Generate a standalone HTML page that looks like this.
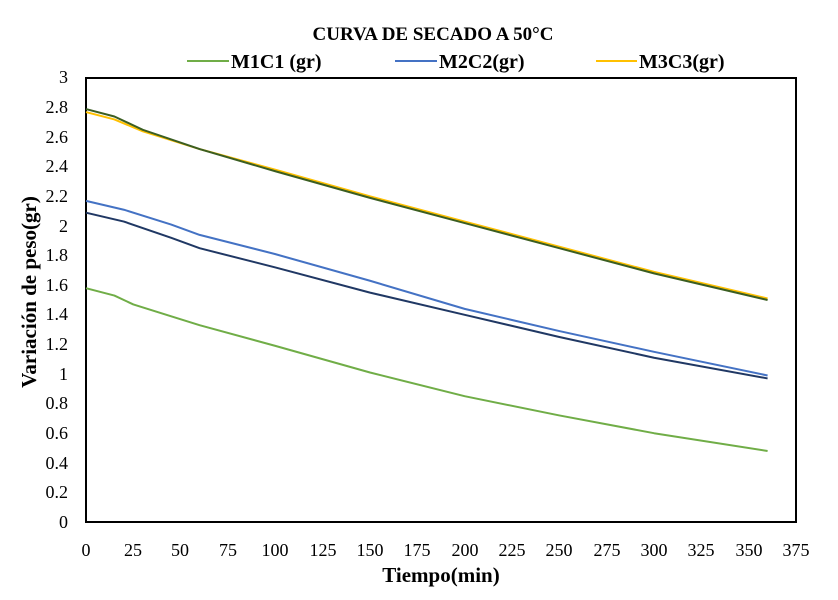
<!DOCTYPE html>
<html><head><style>body{margin:0;background:#fff}svg{display:block;font-family:"Liberation Serif",serif}</style></head><body>
<svg width="838" height="600" xmlns="http://www.w3.org/2000/svg">
<text x="433" y="40" text-anchor="middle" font-size="19" font-weight="bold">CURVA DE SECADO A 50°C</text>
<g font-size="20" font-weight="bold">
<line x1="187" y1="61" x2="229" y2="61" stroke="#70ad47" stroke-width="2"/><text x="231" y="68">M1C1 (gr)</text>
<line x1="395" y1="61" x2="437" y2="61" stroke="#4472c4" stroke-width="2"/><text x="439" y="68">M2C2(gr)</text>
<line x1="596" y1="61" x2="637" y2="61" stroke="#ffc000" stroke-width="2"/><text x="639" y="68">M3C3(gr)</text>
</g>
<rect x="86" y="78" width="710" height="444" fill="none" stroke="#000" stroke-width="2"/>
<g font-size="18" text-anchor="end">
<text x="68" y="528">0</text><text x="68" y="498">0.2</text><text x="68" y="469">0.4</text><text x="68" y="439">0.6</text><text x="68" y="409">0.8</text><text x="68" y="380">1</text><text x="68" y="350">1.2</text><text x="68" y="320">1.4</text><text x="68" y="291">1.6</text><text x="68" y="261">1.8</text><text x="68" y="232">2</text><text x="68" y="202">2.2</text><text x="68" y="172">2.4</text><text x="68" y="143">2.6</text><text x="68" y="113">2.8</text><text x="68" y="83">3</text>
</g>
<g font-size="18" text-anchor="middle">
<text x="86" y="556">0</text><text x="133" y="556">25</text><text x="180" y="556">50</text><text x="228" y="556">75</text><text x="275" y="556">100</text><text x="323" y="556">125</text><text x="370" y="556">150</text><text x="417" y="556">175</text><text x="465" y="556">200</text><text x="512" y="556">225</text><text x="559" y="556">250</text><text x="607" y="556">275</text><text x="654" y="556">300</text><text x="701" y="556">325</text><text x="749" y="556">350</text><text x="796" y="556">375</text>
</g>
<text x="441" y="582" text-anchor="middle" font-size="21" font-weight="bold">Tiempo(min)</text>
<text transform="translate(36,292) rotate(-90)" text-anchor="middle" font-size="21" font-weight="bold">Variación de peso(gr)</text>
<g transform="translate(86,522) scale(1.8933,-148)" fill="none" stroke-width="2" stroke-linejoin="round">
<polyline vector-effect="non-scaling-stroke" stroke="#70ad47" points="0,1.58 15,1.53 25,1.47 45,1.39 60,1.33 100,1.19 150,1.01 200,0.85 250,0.72 300,0.60 360,0.48"/>
<polyline vector-effect="non-scaling-stroke" stroke="#4472c4" points="0,2.17 20,2.11 45,2.01 60,1.94 100,1.81 150,1.63 200,1.44 250,1.29 300,1.15 360,0.99"/>
<polyline vector-effect="non-scaling-stroke" stroke="#203864" points="0,2.09 20,2.03 45,1.92 60,1.85 100,1.72 150,1.55 200,1.40 250,1.25 300,1.11 360,0.97"/>
<polyline vector-effect="non-scaling-stroke" stroke="#ffc000" points="0,2.77 15,2.72 30,2.64 60,2.52 100,2.38 150,2.20 200,2.03 250,1.86 300,1.69 360,1.51"/>
<polyline vector-effect="non-scaling-stroke" stroke="#3b5e22" points="0,2.79 15,2.74 30,2.65 60,2.52 100,2.37 150,2.19 200,2.02 250,1.85 300,1.68 360,1.50"/>
</g>
</svg>
</body></html>
